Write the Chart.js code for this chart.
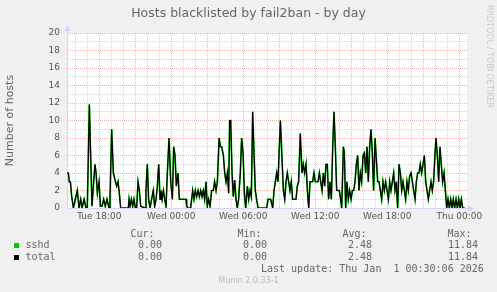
<!DOCTYPE html>
<html>
<head>
<meta charset="utf-8">
<title>Hosts blacklisted by fail2ban - by day</title>
<script src="https://cdn.jsdelivr.net/npm/chart.js@4.4.1/dist/chart.umd.min.js"></script>
<style>
body { margin: 0; background: #f0f0f0; }
#box { position: relative; width: 497px; height: 292px; overflow: hidden; }
#box canvas { position: absolute; left: 0; top: 0; }
.txt { position: absolute; font: 10px 'DejaVu Sans Mono', monospace; color: #666; line-height: 12px; white-space: pre; }
.sq { position: absolute; width: 5px; height: 5px; }
#munin { position: absolute; left: 0; width: 497px; top: 276px; text-align: center; font: 8px 'DejaVu Sans', sans-serif; line-height: 10px; color: #bbb; }
#rrd { position: absolute; left: 485px; top: 5px; font: 8px 'DejaVu Sans', sans-serif; line-height: 8px; color: #c8c8c8; writing-mode: vertical-rl; white-space: nowrap; }
</style>
</head>
<body>
<div id="box">
  <canvas id="chart" width="497" height="292"></canvas>
  <div id="rrd">RRDTOOL / TOBI OETIKER</div>
  <div id="legend"></div>
  <div id="munin">Munin 2.0.33-1</div>
</div>
<script>
/* time in hours counted from Tue 00:00 */
var hours = [
	15.31,15.42,15.50,15.59,15.70,15.84,16.00,16.17,16.31,16.45,16.56,16.73,16.89,17.00,17.17,17.28,17.39,17.53,17.64,17.73,
	17.84,17.98,18.09,18.23,18.36,18.50,18.64,18.81,18.89,19.03,19.17,19.31,19.45,19.56,19.67,19.78,20.42,20.48,20.56,20.67,
	20.78,20.89,21.00,21.11,21.23,21.34,21.45,21.81,21.89,22.00,22.11,22.23,22.36,22.50,22.61,22.73,22.84,22.95,23.06,23.14,
	23.23,23.34,23.45,23.56,23.67,23.81,23.95,24.09,24.20,24.31,24.42,24.56,24.67,25.23,25.28,25.39,25.61,25.78,25.89,26.00,
	26.11,26.23,26.34,26.45,26.56,26.67,26.78,26.89,27.00,27.11,27.23,27.36,27.50,27.61,27.73,27.84,27.98,28.09,28.20,28.34,
	28.45,28.56,28.67,28.78,28.86,28.95,29.06,29.17,29.28,29.39,29.50,29.61,29.75,29.86,29.98,30.09,30.20,30.34,30.45,30.56,
	30.67,30.78,30.89,31.00,31.11,31.23,31.95,32.06,32.28,32.45,32.56,32.67,32.78,32.89,33.09,33.23,33.34,33.45,33.56,33.67,
	33.78,33.89,34.00,34.11,34.39,34.50,34.61,34.75,34.89,35.00,35.11,35.23,35.34,35.45,35.56,35.78,35.89,36.00,36.11,36.23,
	36.34,36.45,36.56,36.67,36.78,36.89,37.00,37.11,37.23,37.34,37.45,37.56,37.67,37.78,38.00,38.11,38.20,38.34,38.42,38.53,
	38.64,38.75,38.86,38.98,39.09,39.20,39.31,39.42,39.53,39.64,39.75,39.86,39.98,40.09,40.20,40.31,40.42,40.53,40.64,40.75,
	40.86,40.98,41.09,41.20,41.31,41.42,41.53,41.64,41.75,41.86,41.98,42.09,42.20,42.31,42.42,42.53,42.64,42.75,42.86,42.98,
	43.09,43.20,43.31,43.42,43.53,43.64,43.75,43.86,43.98,44.09,44.20,44.31,44.42,44.53,44.64,44.75,44.86,44.98,45.09,45.20,
	45.31,45.42,45.53,45.64,45.75,45.86,45.98,46.06,46.17,46.28,46.39,46.50,46.61,46.73,46.84,46.95,47.06,47.17,47.28,47.39,
	47.50,47.61,47.73,47.84,47.95,48.06,48.17,48.28,48.45
];
/* sshd == total (only one jail) */
var hosts = [
	4,4,3,3,1.3,0,1,2,0,1,0,1,0,0,11.84,6,0.2,3,5,4,
	1.7,3,0.2,0.2,1,0.2,1,0,1,9,4,3.2,2.5,3,1.7,0,0,1,0.2,1,
	0.2,1,0,0,3,2,0.2,0,2,5,1,0,1,2,0.2,1,2.5,5,1,2,
	1,2,1,0.2,4,8,3,1,7,6,2.5,4,1,1,0.2,0,0,2,1,2,
	1.3,2,1.3,2,1.3,2,1,3,0.2,1,0.2,2,2,3,2,3,8,7,7,6,
	4,3,4,1.7,10,10,4,1.3,3.2,1,0,1,4,8,6.3,1.7,0,2.5,1,2,
	1.3,11,6.3,2,1,0,0,1,1,0,2,3,4,3,10,5.5,2,1,3,4,
	3,2,3,1,1,2.5,3,8.5,4,5,4,5,2,0,3,3,4,3,3,3,
	4,3,2,4,2.5,5,5,1,3,1,7,11,7,2,2,1,0,7,6.3,0,
	3,1,2,1,2,2,3,5,6,2,4,3,6,6.3,4,7,3,7,9,6.3,
	2,8,5.5,3,3,2,1,3,2,3,2,1,3,2,3,4,2,3,0,5,
	4,2,3,2,1,3,2,3.6,4,3,2,1,3,4,4,5,4,5,6,3,
	2,1,2,3,2,3,6.3,8,6,3,7,5,3,4,2,0,1,0,1,0,
	1,0,1,0,1,0,1,0,0
];

var hourTicks = [16,17,18,19,20,21,22,23,24,25,26,27,28,29,30,31,32,33,34,35,36,37,38,39,40,41,42,43,44,45,46,47,48];
var dayLabels = { 18: 'Tue 18:00', 24: 'Wed 00:00', 30: 'Wed 06:00', 36: 'Wed 12:00', 42: 'Wed 18:00', 48: 'Thu 00:00' };
var yTicks = [0,2,4,6,8,10,12,14,16,18,20];

var seriesNames = ['sshd', 'total'];
var seriesColors = ['#00cc00', '#000000'];
var statNames = ['Cur:', 'Min:', 'Avg:', 'Max:'];
var statValues = [
	['0.00', '0.00', '2.48', '11.84'],
	['0.00', '0.00', '2.48', '11.84']
];
var lastUpdate = 'Last update: Thu Jan  1 00:30:06 2026';

var AXIS = '#cfd6f8';
var MGRID = '#f0b4b4';
var GRID = '#d6d6d6';

var points = hours.map(function(h, i) { return { x: h, y: hosts[i] }; });

/* white canvas + the little rrdtool arrows */
var muninDeco = {
	id: 'muninDeco',
	beforeDraw: function(chart) {
		var a = chart.chartArea, ctx = chart.ctx;
		ctx.save();
		ctx.fillStyle = '#ffffff';
		ctx.fillRect(a.left, a.top, a.right - a.left, a.bottom - a.top);
		ctx.restore();
	},
	afterDraw: function(chart) {
		var a = chart.chartArea, ctx = chart.ctx;
		var bx = Math.round(a.left) + 0.5, by = Math.round(a.bottom) + 0.5;
		ctx.save();
		ctx.fillStyle = AXIS;
		ctx.strokeStyle = AXIS;
		ctx.lineWidth = 1;
		ctx.beginPath();
		ctx.moveTo(a.right - 1, by); ctx.lineTo(a.right + 2, by);
		ctx.moveTo(bx, a.top); ctx.lineTo(bx, a.top - 3);
		ctx.stroke();
		ctx.beginPath();
		ctx.moveTo(a.right + 1, by - 3.5); ctx.lineTo(a.right + 7, by); ctx.lineTo(a.right + 1, by + 3.5);
		ctx.closePath(); ctx.fill();
		ctx.beginPath();
		ctx.moveTo(bx - 3.5, a.top - 2); ctx.lineTo(bx, a.top - 8); ctx.lineTo(bx + 3.5, a.top - 2);
		ctx.closePath(); ctx.fill();
		ctx.restore();
	}
};

Chart.defaults.font.family = "'DejaVu Sans', sans-serif";
Chart.defaults.color = '#666';

var chart = new Chart(document.getElementById('chart'), {
	type: 'line',
	data: {
		datasets: [
			{ label: seriesNames[1], data: points, borderColor: seriesColors[1], borderWidth: 1.2, pointRadius: 0, tension: 0, order: 1 },
			{ label: seriesNames[0], data: points, borderColor: seriesColors[0], borderWidth: 1.7, pointRadius: 0, tension: 0, order: 2 }
		]
	},
	options: {
		responsive: false,
		animation: false,
		devicePixelRatio: 1,
		events: [],
		layout: { padding: 0 },
		plugins: {
			legend: { display: false },
			tooltip: { enabled: false },
			title: {
				display: true,
				text: 'Hosts blacklisted by fail2ban - by day',
				color: '#666',
				font: { size: 12.5, weight: 'normal' },
				padding: { top: 6, bottom: 12 }
			}
		},
		scales: {
			x: {
				type: 'linear',
				min: 15.308,
				max: 48.642,
				afterFit: function(s) { s.height = 84; },
				afterBuildTicks: function(s) { s.ticks = hourTicks.map(function(v) { return { value: v }; }); },
				ticks: {
					autoSkip: false,
					maxRotation: 0,
					padding: 3,
					font: { size: 9 },
					color: '#555',
					callback: function(v) { return dayLabels[v] || ''; }
				},
				grid: {
					drawTicks: false,
					lineWidth: 1,
					color: function(c) { return c.tick && c.tick.value % 3 === 0 ? MGRID : GRID; }
				},
				border: { color: AXIS, width: 1, dash: [1, 1] }
			},
			y: {
				min: 0,
				max: 20,
				afterFit: function(s) { s.width = 67; },
				afterBuildTicks: function(s) {
					var t = [];
					for (var v = 0; v <= 20; v++) t.push({ value: v });
					s.ticks = t;
				},
				ticks: {
					autoSkip: false,
					padding: 7,
					font: { size: 9 },
					color: '#555',
					callback: function(v) { return yTicks.indexOf(v) >= 0 ? String(v) : ''; }
				},
				grid: {
					drawTicks: false,
					lineWidth: 1,
					color: function(c) {
						if (!c.tick || c.tick.value === 0) return 'rgba(0,0,0,0)';
						return c.tick.value % 2 === 0 ? MGRID : GRID;
					}
				},
				border: { color: AXIS, width: 1, dash: [1, 1] },
				title: {
					display: true,
					text: 'Number of hosts',
					color: '#666',
					font: { size: 11 },
					padding: { top: 4, bottom: 0 }
				}
			},
			/* empty right margin so the title stays centred on the whole image */
			yRight: {
				position: 'right',
				display: true,
				afterFit: function(s) { s.width = 30; },
				ticks: { display: false },
				grid: { display: false, drawOnChartArea: false },
				border: { display: false }
			}
		}
	},
	plugins: [muninDeco]
});

/* legend underneath, rrdtool style */
var legend = document.getElementById('legend');
function addText(str, left, top) {
	var d = document.createElement('div');
	d.className = 'txt';
	d.style.left = left + 'px';
	d.style.top = top + 'px';
	d.textContent = str;
	legend.appendChild(d);
}
var statLeft = [131, 238, 343, 448];
var valueRight = [162, 267, 372, 478];
var rowTop = [239, 251];
statNames.forEach(function(n, i) { addText(n, statLeft[i] - 0.5, 228); });
seriesNames.forEach(function(n, r) {
	var sq = document.createElement('div');
	sq.className = 'sq';
	sq.style.left = '14px';
	sq.style.top = (rowTop[r] + 4) + 'px';
	sq.style.background = seriesColors[r];
	legend.appendChild(sq);
	addText(n, 25.5, rowTop[r]);
	statValues[r].forEach(function(v, i) {
		addText(v, valueRight[i] - v.length * 6.02, rowTop[r]);
	});
});
addText(lastUpdate, 261, 263);
</script>
</body>
</html>
